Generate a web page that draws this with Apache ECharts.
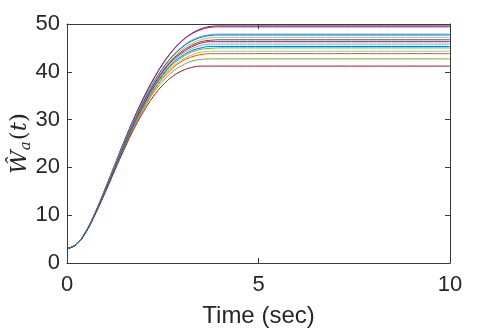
<!DOCTYPE html>
<html>
<head>
<meta charset="utf-8">
<script src="https://cdn.jsdelivr.net/npm/echarts@6/dist/echarts.min.js"></script>
<style>
  html, body { margin: 0; padding: 0; background: #fff; }
  #chart { width: 498px; height: 329px; }
</style>
</head>
<body>
<div id="chart"></div>
<script>
// time samples (sec)
const timeSec = [0, 0.25, 0.5, 0.75, 1, 1.25, 1.5, 1.75, 2, 2.25, 2.5, 2.75, 3, 3.25, 3.5, 3.75, 4, 4.5, 10]

// weight estimates, one array per curve
const w01 = [3, 3.9, 6.7, 10.8, 15.6, 20.6, 25.6, 30.3, 34.6, 38.4, 41.7, 44.4, 46.5, 48.0, 49.0, 49.5, 49.6, 49.6, 49.6]
const w02 = [3, 3.9, 6.7, 10.8, 15.6, 20.6, 25.6, 30.3, 34.5, 38.3, 41.6, 44.3, 46.4, 47.9, 48.8, 49.3, 49.4, 49.4, 49.4]
const w03 = [3, 3.9, 6.7, 10.7, 15.4, 20.4, 25.3, 29.9, 34.0, 37.7, 40.8, 43.3, 45.2, 46.6, 47.4, 47.8, 47.9, 47.9, 47.9]
const w04 = [3, 3.9, 6.6, 10.7, 15.4, 20.3, 25.2, 29.8, 33.9, 37.6, 40.7, 43.2, 45.1, 46.4, 47.2, 47.6, 47.7, 47.7, 47.7]
const w05 = [3, 3.9, 6.6, 10.7, 15.4, 20.3, 25.1, 29.7, 33.8, 37.4, 40.4, 42.8, 44.7, 45.9, 46.7, 47.1, 47.2, 47.2, 47.2]
const w06 = [3, 3.9, 6.6, 10.7, 15.3, 20.2, 25.0, 29.5, 33.6, 37.1, 40.1, 42.5, 44.3, 45.5, 46.3, 46.6, 46.7, 46.7, 46.7]
const w07 = [3, 3.9, 6.6, 10.6, 15.3, 20.1, 24.9, 29.4, 33.5, 37.0, 40.0, 42.3, 44.0, 45.2, 46.0, 46.3, 46.3, 46.3, 46.3]
const w08 = [3, 3.9, 6.6, 10.6, 15.2, 20.1, 24.8, 29.3, 33.3, 36.8, 39.7, 42.0, 43.7, 44.8, 45.5, 45.8, 45.8, 45.8, 45.8]
const w09 = [3, 3.9, 6.6, 10.6, 15.2, 19.9, 24.7, 29.1, 33.0, 36.4, 39.2, 41.4, 43.0, 44.1, 44.7, 44.9, 45.0, 45.0, 45.0]
const w10 = [3, 3.9, 6.6, 10.6, 15.1, 19.8, 24.5, 28.9, 32.8, 36.1, 38.9, 41.0, 42.5, 43.5, 44.1, 44.3, 44.3, 44.3, 44.3]
const w11 = [3, 3.9, 6.6, 10.5, 15.1, 19.8, 24.4, 28.8, 32.6, 35.9, 38.6, 40.7, 42.2, 43.1, 43.6, 43.8, 43.8, 43.8, 43.8]
const w12 = [3, 3.9, 6.5, 10.5, 14.9, 19.6, 24.2, 28.5, 32.2, 35.5, 38.0, 40.0, 41.3, 42.2, 42.6, 42.7, 42.7, 42.7, 42.7]
const w13 = [3, 3.9, 6.5, 10.4, 14.8, 19.4, 23.9, 28.1, 31.7, 34.8, 37.2, 39.0, 40.2, 40.9, 41.2, 41.2, 41.2, 41.2, 41.2]
const w14 = [3, 3.9, 6.6, 10.6, 15.2, 20.0, 24.7, 29.2, 33.1, 36.6, 39.4, 41.7, 43.3, 44.4, 45.0, 45.3, 45.3, 45.3, 45.3]

const curves = [w01, w02, w03, w04, w05, w06, w07, w08, w09, w10, w11, w12, w13, w14]
const lineColors = ['#A2142F', '#7E2F8E', '#4DBEEE', '#0072BD', '#EDB120', '#7E2F8E', '#A2142F',
  '#4DBEEE', '#77AC30', '#EDB120', '#D95319', '#77AC30', '#A2142F', '#0072BD']

const xTicks = [0, 5, 10]
const yTicks = [0, 10, 20, 30, 40, 50]

const axisColor = '#3a3a3a'
const textColor = '#262626'
const tickFont = 'Liberation Sans, Arial, Helvetica, sans-serif'

const chart = echarts.init(document.getElementById('chart'), null, { renderer: 'canvas' })

function boxAxis(extra) {
  return Object.assign({
    type: 'value',
    axisLine: { show: true, onZero: false, lineStyle: { color: axisColor, width: 1 } },
    axisTick: { show: true, inside: true, length: 5, lineStyle: { color: axisColor } },
    splitLine: { show: false },
    axisLabel: { show: false }
  }, extra)
}

const series = curves.map((vals, i) => ({
  type: 'line',
  data: timeSec.map((t, k) => [t, vals[k]]),
  showSymbol: false,
  smooth: 0.4,
  lineStyle: { width: 1, color: lineColors[i] },
  itemStyle: { color: lineColors[i] },
  xAxisIndex: 0,
  yAxisIndex: 0,
  z: 2 + i
}))

chart.setOption({
  animation: false,
  backgroundColor: '#fff',
  grid: { left: 67, right: 48, top: 24, bottom: 66, containLabel: false, outerBoundsMode: 'none' },
  xAxis: [
    boxAxis({
      position: 'bottom',
      min: xTicks[0], max: xTicks[xTicks.length - 1], interval: 5,
      axisLabel: { show: true, color: textColor, fontSize: 22, fontFamily: tickFont, margin: 11 },
      name: 'Time (sec)',
      nameLocation: 'middle',
      nameGap: 41,
      nameMoveOverlap: false,
      nameTextStyle: { color: textColor, fontSize: 24, fontFamily: tickFont }
    }),
    boxAxis({ position: 'top', min: 0, max: 10, interval: 5 })
  ],
  yAxis: [
    boxAxis({
      position: 'left',
      min: yTicks[0], max: yTicks[yTicks.length - 1], interval: 10,
      axisLabel: { show: true, color: textColor, fontSize: 22, fontFamily: tickFont, margin: 7 },
      name: '{w|Ŵ}{a|a}{p|(}{w|t}{p|)}',
      nameLocation: 'middle',
      nameRotate: 90,
      nameGap: 33,
      nameMoveOverlap: false,
      nameTextStyle: {
        color: textColor,
        rich: {
          w: { fontSize: 23, fontStyle: 'italic', fontFamily: 'DejaVu Serif, serif', color: textColor },
          a: { fontSize: 15, fontStyle: 'italic', fontFamily: 'DejaVu Serif, serif', color: textColor, padding: [12, 1, 0, 0] },
          p: { fontSize: 23, fontFamily: 'DejaVu Serif, serif', color: textColor }
        }
      }
    }),
    boxAxis({ position: 'right', min: 0, max: 50, interval: 10 })
  ],
  series: series
})
</script>
</body>
</html>
